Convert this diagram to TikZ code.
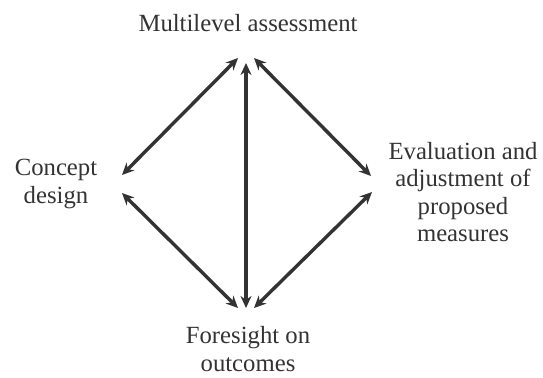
\documentclass[tikz,border=0pt]{standalone}
\usepackage{fontspec}
\setmainfont{Liberation Serif}
\usetikzlibrary{arrows.meta}
\definecolor{ink}{HTML}{333333}
\begin{document}
\begin{tikzpicture}[x=1bp,y=-1bp,
  lbl/.style={font=\fontsize{24.8}{27.3}\selectfont, text=ink, align=center, inner sep=0pt},
  link/.style={draw=ink, line width=3.4bp, {Stealth[length=12bp,width=11bp]}-{Stealth[length=12bp,width=11bp]}}]
\useasboundingbox (0,0) rectangle (543,377);
\node[lbl, anchor=base] (ma) at (248,31) {Multilevel assessment};
\node[lbl] (cd) at (56,184) {Concept\\design};
\node[lbl] (ev) at (463,192) {Evaluation and\\adjustment of\\proposed\\measures};
\node[lbl] (fo) at (248,349) {Foresight on\\outcomes};
% endpoints
\coordinate (t1) at (238,58);
\coordinate (t2) at (246,63);
\coordinate (t3) at (254,58);
\coordinate (l1) at (122,175);
\coordinate (l2) at (122,193);
\coordinate (r1) at (371,176);
\coordinate (r2) at (372,192);
\coordinate (b1) at (238,308);
\coordinate (b2) at (246,308);
\coordinate (b3) at (254,308);
\draw[link] (t1) -- (l1);
\draw[link] (t3) -- (r1);
\draw[link] (t2) -- (b2);
\draw[link] (l2) -- (b1);
\draw[link] (r2) -- (b3);
\end{tikzpicture}
\end{document}
